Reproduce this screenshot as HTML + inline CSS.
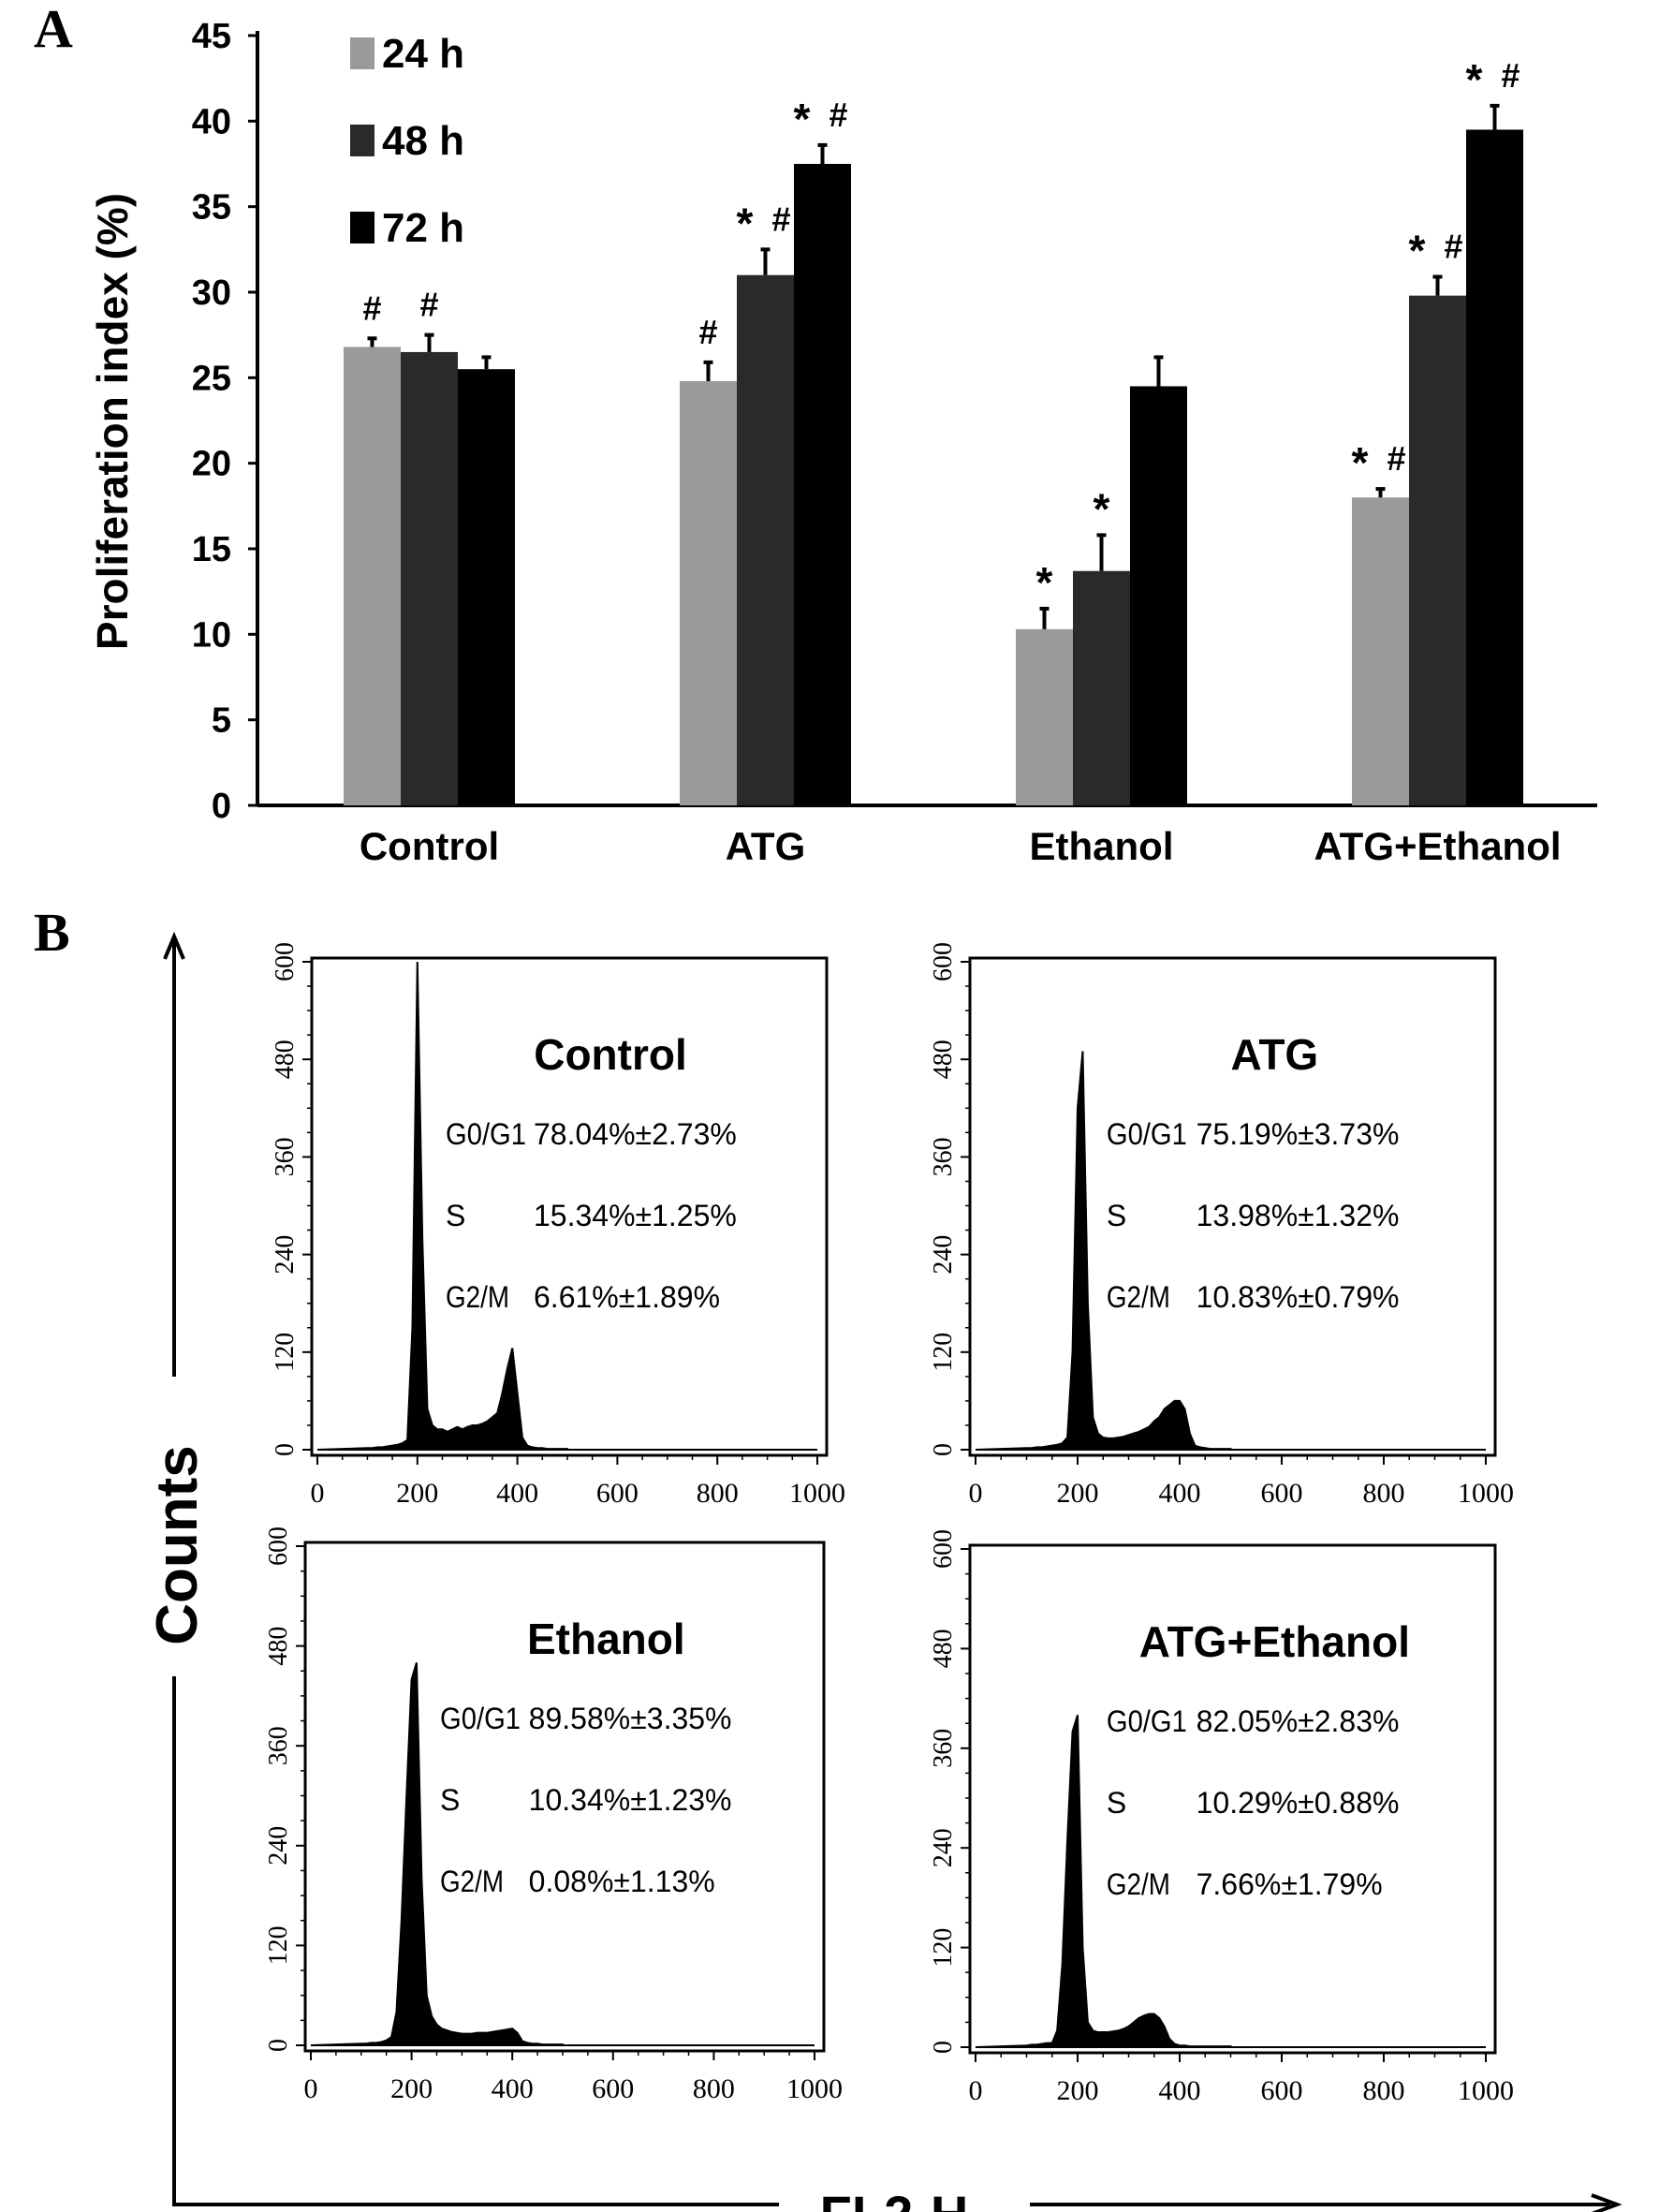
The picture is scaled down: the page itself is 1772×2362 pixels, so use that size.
<!DOCTYPE html>
<html><head><meta charset="utf-8"><style>
body{margin:0;background:#fff;}
svg{display:block;font-family:"Liberation Sans",sans-serif;}
</style></head><body>
<svg id="fig" width="1772" height="2362" viewBox="0 0 1772 2362" xmlns="http://www.w3.org/2000/svg">
<text x="36" y="50" font-family="Liberation Serif" font-weight="bold" font-size="58">A</text>
<text x="36" y="1015" font-family="Liberation Serif" font-weight="bold" font-size="58">B</text>
<g id="barChart"></g>
<g id="hists"></g>
</svg>
<script>
const categories=["Control","ATG","Ethanol","ATG+Ethanol"];
const seriesNames=["24 h","48 h","72 h"];
const v24=[26.8,24.8,10.3,18.0];
const v48=[26.5,31.0,13.7,29.8];
const v72=[25.5,37.5,24.5,39.5];
const e24=[0.5,1.1,1.2,0.5];
const e48=[1.0,1.5,2.1,1.1];
const e72=[0.7,1.1,1.7,1.4];
const marks24=["#","#","*","* #"];
const marks48=["#","* #","*","* #"];
const marks72=["","* #","","* #"];
const yTicks=[0,5,10,15,20,25,30,35,40,45];

const NS="http://www.w3.org/2000/svg";
function mk(tag,attrs,parent,txt){const e=document.createElementNS(NS,tag);for(const k in attrs)e.setAttribute(k,attrs[k]);if(txt!==undefined)e.textContent=txt;parent.appendChild(e);return e;}
const bc=document.getElementById('barChart');
const X0=275,Y0=860,Y45=38;
const yS=v=>Y0-(v/45)*(Y0-Y45);
const colors=["#9a9a9a","#2a2a2a","#000000"];
const vals=[v24,v48,v72],errs=[e24,e48,e72],marks=[marks24,marks48,marks72];
const groupX=i=>367+i*359;
const BW=61;
let ax=mk('line',{x1:X0,y1:Y45-5,x2:X0,y2:Y0,stroke:'#000','stroke-width':4},bc);

let axx=mk('line',{x1:X0,y1:Y0,x2:1706,y2:Y0,stroke:'#000','stroke-width':4},bc);

yTicks.forEach(t=>{
  const y=yS(t);
  let tk=mk('line',{x1:X0-10,y1:y,x2:X0,y2:y,stroke:'#000','stroke-width':3},bc);
  
  let tl=mk('text',{x:X0-28,y:y+13,'text-anchor':'end','font-size':38,'font-weight':'bold'},bc,String(t));
  
});
let yt=mk('text',{x:0,y:0,transform:'translate(136,450) rotate(-90)','text-anchor':'middle','font-size':46,'font-weight':'bold'},bc,'Proliferation index (%)');

categories.forEach((c,i)=>{
  const gx=groupX(i);
  let cl=mk('text',{x:gx+BW*1.5,y:918,'text-anchor':'middle','font-size':42,'font-weight':'bold'},bc,c);
  
  for(let s=0;s<3;s++){
    const v=vals[s][i],e=errs[s][i],x=gx+s*BW;
    let r=mk('rect',{x:x,y:yS(v),width:BW,height:Y0-yS(v),fill:colors[s]},bc);
    
    
    const cx=x+BW/2;
    let el=mk('line',{x1:cx,y1:yS(v),x2:cx,y2:yS(v+e),stroke:'#000','stroke-width':4},bc);
    
    let ec=mk('line',{x1:cx-5,y1:yS(v+e),x2:cx+5,y2:yS(v+e),stroke:'#000','stroke-width':4},bc);
    
    const m=marks[s][i];
    const my=yS(v+e)-20;
    if(m==="* #"){
      let a=mk('text',{x:cx-22,y:my+8,'text-anchor':'middle','font-size':46,'font-weight':'bold'},bc,'*');
      
      let b=mk('text',{x:cx+17,y:my,'text-anchor':'middle','font-size':36,'font-weight':'bold'},bc,'#');
      
    } else if(m==="*"){
      let a=mk('text',{x:cx,y:my+8,'text-anchor':'middle','font-size':46,'font-weight':'bold'},bc,'*');
      
    } else if(m==="#"){
      let b=mk('text',{x:cx,y:my,'text-anchor':'middle','font-size':36,'font-weight':'bold'},bc,'#');
      
    }
  }
});
seriesNames.forEach((n,s)=>{
  const y=40+s*93;
  let sq=mk('rect',{x:374,y:y,width:26,height:34,fill:colors[s]},bc);
  
  let lt=mk('text',{x:408,y:y+32,'font-size':44,'font-weight':'bold'},bc,n);
  
});

// Histograms: counts at FL2-H bins 100..500 step 10
const binStart=100,binStep=10;
const histControl=[2,2,3,3,4,5,6,8,12,150,600,260,50,30,25,25,22,25,28,25,28,30,30,32,35,40,45,70,100,125,70,15,5,3,2,2,1,1,1,1,1];
const histATG=[2,2,3,3,4,5,6,8,15,120,420,490,180,40,20,15,14,14,15,16,18,20,22,25,28,35,40,50,55,60,60,50,20,5,3,2,1,1,1,1,1];
const histEthanol=[2,2,3,3,4,6,10,40,150,300,440,460,200,60,35,25,20,18,16,15,14,14,14,15,15,15,16,17,18,19,20,15,5,3,2,2,1,1,1,1,1];
const histATGEthanol=[2,3,3,4,5,5,20,100,250,380,400,120,30,20,18,18,18,19,20,22,25,30,35,38,40,40,35,25,10,4,2,2,1,1,1,1,1,1,1,1,1];
const panelTitles=["Control","ATG","Ethanol","ATG+Ethanol"];
const statsG1=["78.04%±2.73%","75.19%±3.73%","89.58%±3.35%","82.05%±2.83%"];
const statsS=["15.34%±1.25%","13.98%±1.32%","10.34%±1.23%","10.29%±0.88%"];
const statsG2=["6.61%±1.89%","10.83%±0.79%","0.08%±1.13%","7.66%±1.79%"];
const histXTicks=[0,200,400,600,800,1000];
const histYTicks=[0,120,240,360,480,600];
const hists=[histControl,histATG,histEthanol,histATGEthanol];
const boxes=[[333,1023,883,1554],[1036,1023,1597,1554],[326,1647,880,2190],[1036,1650,1597,2192]];
const labelLens={"G0/G1":86,"G2/M":68};
const hg=document.getElementById('hists');
hists.forEach((h,p)=>{
  const [L,T,R,B]=boxes[p];
  const g=mk('g',{},hg);
  
  
  const xs=v=>L+6+v/1000*(R-L-16);
  const ys=c=>B-6-c/600*(B-T-10);
  let d='M'+xs(0)+','+ys(0)+' L'+xs(binStart)+','+ys(h[0]);
  h.forEach((c,k)=>{d+=' L'+xs(binStart+k*binStep)+','+ys(c);});
  d+=' L'+xs(binStart+(h.length-1)*binStep)+','+ys(0)+' L'+xs(1000)+','+ys(0)+' Z';
  let path=mk('path',{d:d,fill:'#000',stroke:'#000','stroke-width':2},g);
  
  let box=mk('rect',{x:L,y:T,width:R-L,height:B-T,fill:'none',stroke:'#000','stroke-width':3},g);
  
  histXTicks.forEach(t=>{
    let tk=mk('line',{x1:xs(t),y1:B,x2:xs(t),y2:B+10,stroke:'#000','stroke-width':2},g);
    
    let tl=mk('text',{x:xs(t),y:B+50,'text-anchor':'middle','font-size':30,'font-family':'Liberation Serif'},g,String(t));
    
  });
  for(let t=0;t<=1000;t+=50){mk('line',{x1:xs(t),y1:B,x2:xs(t),y2:B+5,stroke:'#000','stroke-width':1.5},g);}
  histYTicks.forEach(t=>{
    let tk=mk('line',{x1:L-10,y1:ys(t),x2:L,y2:ys(t),stroke:'#000','stroke-width':2},g);
    
    let tl=mk('text',{x:0,y:0,transform:'translate('+(L-20)+','+ys(t)+') rotate(-90)','text-anchor':'middle','font-size':28,'font-family':'Liberation Serif'},g,String(t));
    
  });
  for(let t=0;t<=600;t+=30){mk('line',{x1:L-5,y1:ys(t),x2:L,y2:ys(t),stroke:'#000','stroke-width':1.5},g);}
  const tx=L+(R-L)*0.58;
  let tt=mk('text',{x:tx,y:T+119,'text-anchor':'middle','font-size':46,'font-weight':'bold'},g,panelTitles[p]);
  
  const sx=L+(R-L)*0.26,vx=L+(R-L)*0.42;
  [["G0/G1",statsG1[p]],["S",statsS[p]],["G2/M",statsG2[p]]].forEach((r,k)=>{
    const y=T+199+k*87;
    const at={x:sx,y:y,'font-size':32};
    if(labelLens[r[0]]){at.textLength=labelLens[r[0]];at.lengthAdjust='spacingAndGlyphs';}
    let a=mk('text',at,g,r[0]);
    
    let b=mk('text',{x:vx+6,y:y,'font-size':32},g,r[1]);
    
  });
});
let va=mk('path',{d:'M186,1000 L186,1470 M186,1790 L186,2354 L832,2354 M1100,2354 L1720,2354',stroke:'#000','stroke-width':4,fill:'none'},hg);

let ah1=mk('path',{d:'M176,1024 L186,1000 L196,1024',stroke:'#000','stroke-width':4,fill:'none'},hg);

let ah2=mk('path',{d:'M1700,2344 L1727,2354 L1700,2364',stroke:'#000','stroke-width':4,fill:'none'},hg);

let ct=mk('text',{x:0,y:0,transform:'translate(210,1650) rotate(-90)','text-anchor':'middle','font-size':62,'font-weight':'bold'},hg,'Counts');

let ft=mk('text',{x:955,y:2384,'text-anchor':'middle','font-size':56,'font-weight':'bold'},hg,'FL2-H');

</script>
</body></html>
